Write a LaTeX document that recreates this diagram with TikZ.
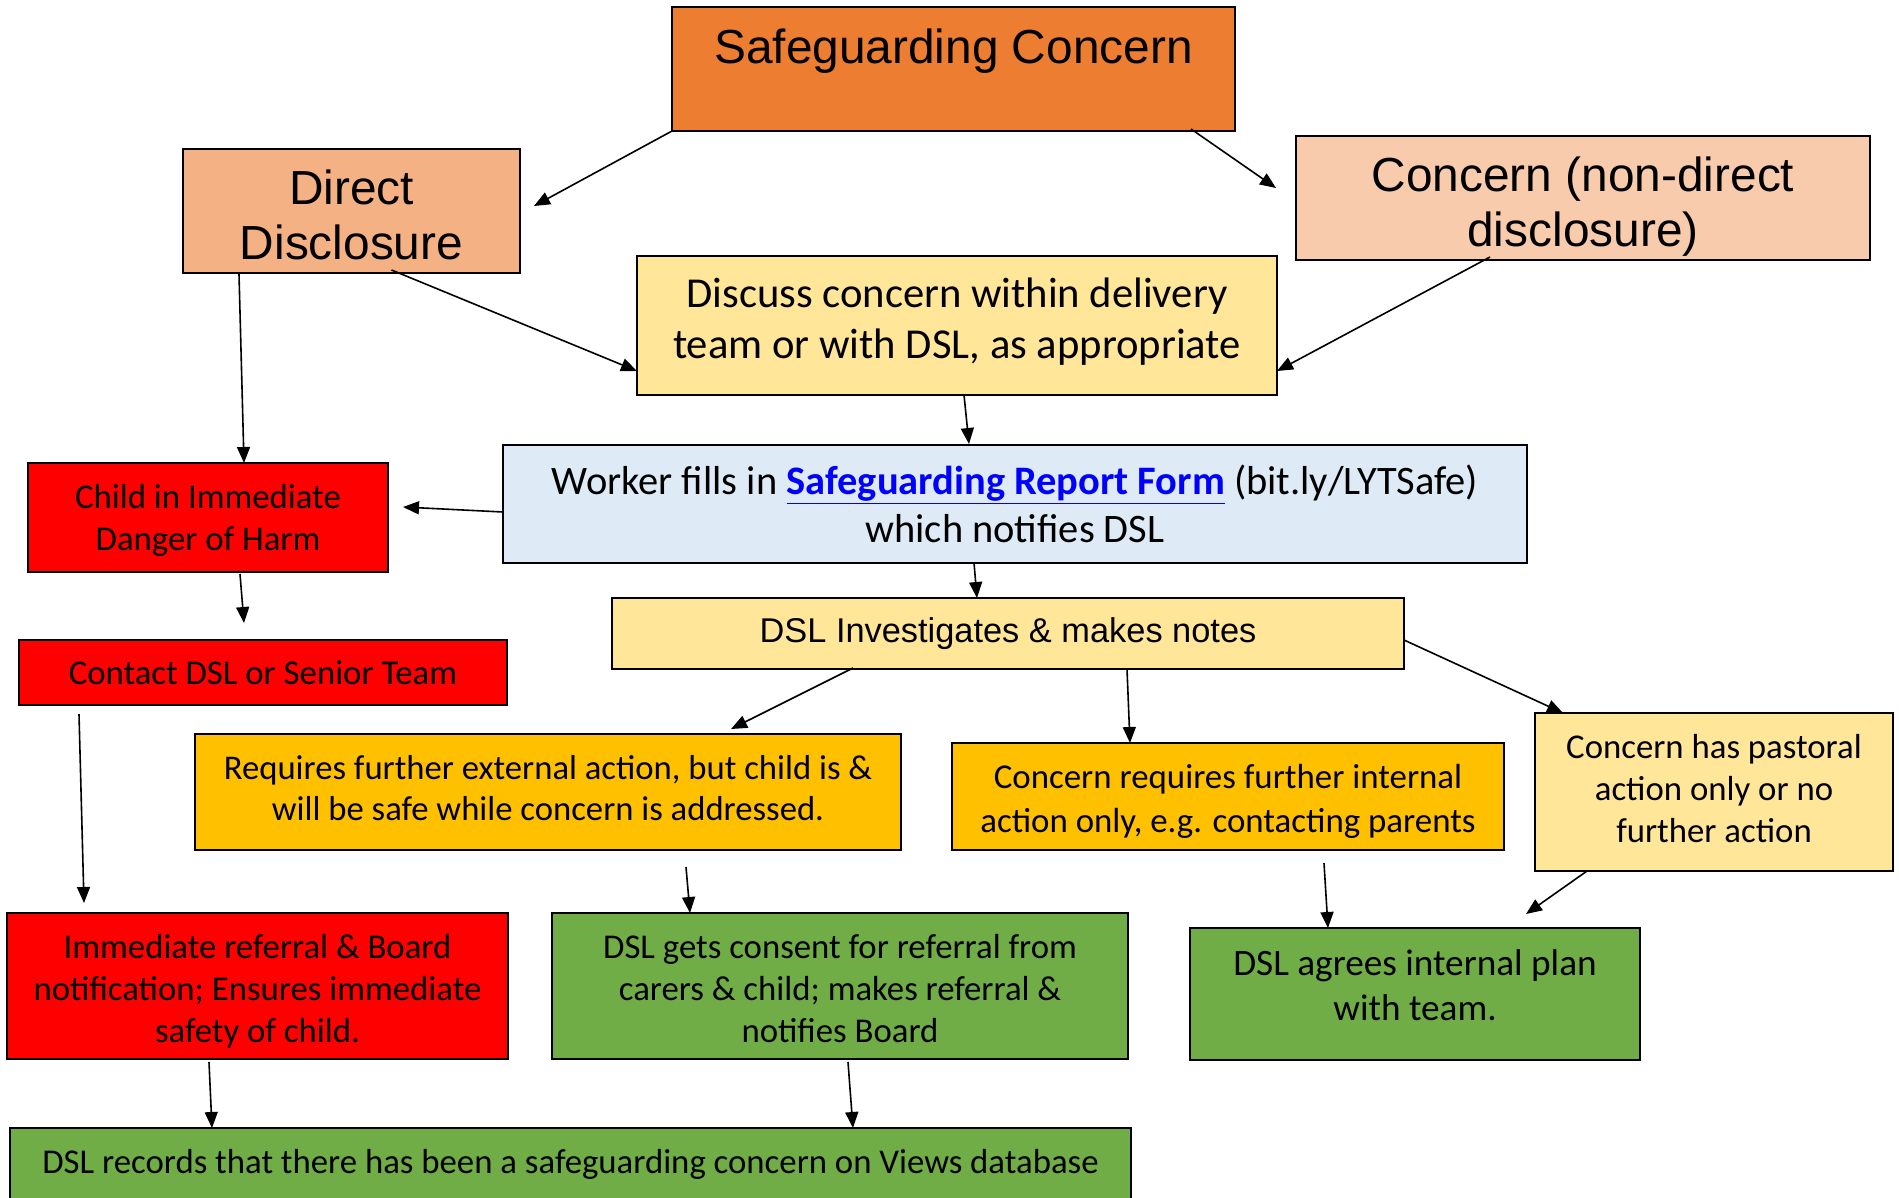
\documentclass[tikz,border=0pt]{standalone}
\usepackage{fontspec}
\setmainfont{Carlito}
\newfontfamily\arialf{Liberation Sans}
\usetikzlibrary{arrows.meta,calc}
\definecolor{sgorange}{HTML}{ED7D31}
\definecolor{ddpeach}{HTML}{F4B183}
\definecolor{cndpeach}{HTML}{F8CBAD}
\definecolor{paleyel}{HTML}{FFE699}
\definecolor{paleblue}{HTML}{DEEBF7}
\definecolor{redbox}{HTML}{FF0000}
\definecolor{amber}{HTML}{FFC000}
\definecolor{greenbox}{HTML}{70AD47}
\definecolor{linkblue}{HTML}{0000FF}
\tikzset{
  box/.style={draw=black, line width=1.8bp, inner sep=0pt, outer sep=0pt},
  lbl/.style={align=center, inner sep=0pt, outer sep=0pt, text=black},
  arr/.style={line width=1.6bp, -{Triangle[length=16bp,width=13bp]}},
  fA/.style={font=\arialf\fontsize{48}{55}\selectfont},
  fAs/.style={font=\arialf\fontsize{34.5}{41}\selectfont},
  fC/.style={font=\fontsize{34.9}{42.4}\selectfont},
  fCr/.style={font=\fontsize{34.8}{41.2}\selectfont},
  fCi/.style={font=\fontsize{35}{43.7}\selectfont},
  fCd/.style={font=\fontsize{42.8}{51}\selectfont},
  fCw/.style={font=\fontsize{40.6}{48.5}\selectfont},
  fCg/.style={font=\fontsize{37.4}{44.9}\selectfont},
}
% #1 name, #2 centre, #3 width, #4 height, #5 fill, #6 font style, #7 text offset (down), #8 text
\newcommand{\mkbox}[8]{%
  \node[box, fill=#5, minimum width=#3bp, minimum height=#4bp] (#1) at (#2) {};
  \node[lbl, #6] (#1t) at ($(#1.center)+(0,#7)$) {#8};
}
\begin{document}
\begin{tikzpicture}[x=1bp,y=-1bp]
\useasboundingbox (0,0) rectangle (1899,1197);
\clip (0,0) rectangle (1899,1197);
\fill[white] (0,0) rectangle (1899,1197);

% boxes
\node[box, fill=sgorange, minimum width=563bp, minimum height=124bp] (sc) at (953.5,69) {};
\node[fA, lbl, anchor=base] (sct) at (953.5,63) {Safeguarding Concern};
\mkbox{dd}{351.5,211}{337}{124}{ddpeach}{fA}{3.6}{Direct\\Disclosure}
\mkbox{cnd}{1583,198}{574}{124}{cndpeach}{fA}{8.5}{Concern (non-direct\\disclosure)}
\mkbox{disc}{957,325.5}{640}{139}{paleyel}{fCd}{-3.6}{Discuss concern within delivery\\team or with DSL, as appropriate}
\mkbox{work}{1015,504}{1024}{118}{paleblue}{fCw}{0}{Worker fills in \textcolor{linkblue}{\underline{\textbf{Safeguarding Report Form}}} (bit.ly/LYTSafe)\\which notifies DSL}
\mkbox{child}{208,517.5}{360}{109}{redbox}{fC}{3}{Child in Immediate\\Danger of Harm}
\mkbox{contact}{263,672.5}{488}{65}{redbox}{fC}{0}{Contact DSL or Senior Team}
\mkbox{inv}{1008,633.5}{792}{71}{paleyel}{fAs}{0}{DSL Investigates \& makes notes}
\mkbox{reqext}{548,792}{706}{116}{amber}{fCr}{-4}{Requires further external action, but child is \&\\will be safe while concern is addressed.}
\mkbox{conint}{1228,796.5}{552}{107}{amber}{fCi}{5}{Concern requires further internal\\action only, e.g. contacting parents}
\mkbox{past}{1714,792}{358}{158}{paleyel}{fC}{-3.6}{Concern has pastoral\\action only or no\\further action}
\mkbox{immref}{257.5,986}{501}{146}{redbox}{fC}{5}{Immediate referral \& Board\\notification; Ensures immediate\\safety of child.}
\mkbox{consent}{840,986}{576}{146}{greenbox}{fC}{2.4}{DSL gets consent for referral from\\carers \& child; makes referral \&\\notifies Board}
\mkbox{agrees}{1415,994}{450}{132}{greenbox}{fCg}{-8.5}{DSL agrees internal plan\\with team.}
\mkbox{records}{570.5,1164}{1121}{72}{greenbox}{fC}{0}{DSL records that there has been a safeguarding concern on Views database}

% connectors
\draw[arr] (sc.south west) -- ($(dd.east)+(14,-5)$);
\draw[arr] ($(sc.south east)+(-44,-2)$) -- ($(cnd.west)+(-20,-10)$);
\draw[arr] ($(dd.south)+(40,-3)$) -- ($(disc.south west)+(0,-24)$);
\draw[arr] ($(cnd.south)+(-93,-3)$) -- ($(disc.south east)+(0,-24)$);
\draw[arr] ($(dd.south west)+(56,1)$) -- ($(child.north)+(36,0)$);
\draw[arr] ($(disc.south)+(7,0)$) -- ($(work.north)+(-46,-1)$);
\draw[arr] ($(work.west)+(0,8)$) -- ($(child.east)+(15,-10.5)$);
\draw[arr] ($(work.south)+(-41,0)$) -- ($(inv.north)+(-31,0)$);
\draw[arr] ($(child.south)+(32,2)$) -- ($(contact.north)+(-19,-17)$);
\draw[arr] ($(inv.south)+(-155,-1)$) -- ($(reqext.north)+(183,-5)$);
\draw[arr] ($(inv.south)+(119,0)$) -- ($(conint.north)+(-98,0)$);
\draw[arr] ($(inv.east)+(0,6.5)$) -- ($(past.north west)+(28,0)$);
\draw[arr] ($(contact.south west)+(60,9)$) -- ($(immref.north west)+(77,-10)$);
\draw[arr] ($(reqext.south)+(138,17)$) -- ($(consent.north)+(-150,0)$);
\draw[arr] ($(conint.south)+(96,13)$) -- ($(agrees.north)+(-87,0)$);
\draw[arr] ($(past.south)+(-127,0)$) -- ($(agrees.north east)+(-114,-14)$);
\draw[arr] ($(immref.south)+(-48.5,3)$) -- ($(records.north west)+(202,0)$);
\draw[arr] ($(consent.south)+(8,3)$) -- ($(records.north west)+(843,0)$);
\end{tikzpicture}
\end{document}
